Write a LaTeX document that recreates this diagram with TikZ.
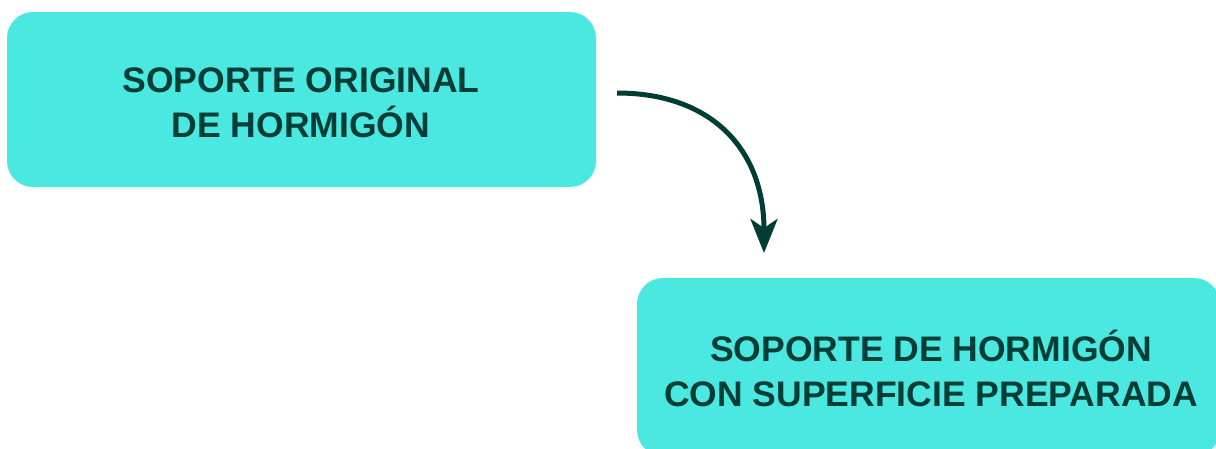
\documentclass[tikz,border=0pt]{standalone}
\usepackage{fontspec}
\setmainfont{Liberation Sans}
\usetikzlibrary{arrows.meta}
\definecolor{boxfill}{HTML}{4BE8E2}
\definecolor{ink}{HTML}{003D35}
\tikzset{
  box/.style={fill=boxfill, rounded corners=26pt},
  lbl/.style={text=ink, font=\fontsize{35.5}{45}\selectfont\bfseries, align=center, inner sep=0pt},
  flow/.style={draw=ink, line width=5pt, -{Stealth[length=34pt,width=27pt,inset=9pt]}}
}
\begin{document}
\begin{tikzpicture}[x=1pt,y=-1pt]
\useasboundingbox (0,0) rectangle (1216,448);
\begin{scope}
\clip (0,0) rectangle (1216,448);
\fill[box] (7,12) rectangle (596,187);
\fill[box] (637,278) rectangle (1220,456);
\end{scope}
\node[lbl] (t1) at (301,103) {SOPORTE ORIGINAL\\DE HORMIGÓN};
\node[lbl] (t2) at (931,368) {SOPORTE DE HORMIGÓN\\CON SUPERFICIE PREPARADA};
\coordinate (a1) at (617,93);
\coordinate (a2) at (764,253);
\draw[flow] (a1) .. controls (712,93) and (764,150) .. (a2);
\end{tikzpicture}
\end{document}
